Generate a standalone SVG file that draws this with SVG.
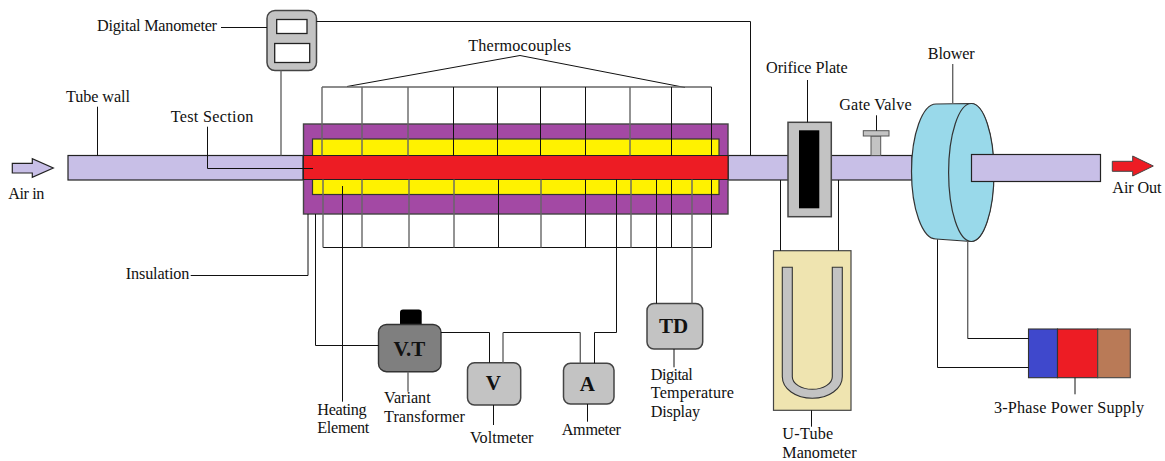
<svg xmlns="http://www.w3.org/2000/svg" width="1165" height="461" viewBox="0 0 1165 461">
<style>
text{font-family:"Liberation Serif","Times New Roman",serif;font-size:16.2px;fill:#111}
text.b{font-weight:bold;font-size:21px;text-anchor:middle}
.s{stroke:#222;stroke-width:1.2}
.tube{fill:#C8BFE7;stroke:#222;stroke-width:1.2}
.box{fill:#C3C3C3;stroke:#444;stroke-width:1.5}
.win{fill:#fff;stroke:#222;stroke-width:1.3}
#connectors path{fill:none;stroke:#111;stroke-width:1}
#connectors path.g{stroke:#666;stroke-width:1.4}
</style>
<rect width="1165" height="461" fill="#fff"/>
<g id="air-in"><polygon points="12.3,163.3 32.3,163.3 32.3,158.7 53.3,168 32.3,177.3 32.3,173 12.3,173" class="tube"/><text x="8.3" y="199.3" textLength="36">Air in</text></g>
<g id="tube-wall"><rect x="68" y="155.5" width="235" height="24.5" class="tube"/><rect x="728" y="155.5" width="184" height="24.5" class="tube"/><text x="66" y="102" textLength="64">Tube wall</text></g>
<g id="insulation"><rect x="303.5" y="124" width="424.5" height="90" fill="#A349A4" stroke="#444" stroke-width="1.4"/><text x="125.7" y="278.7" textLength="63.7">Insulation</text></g>
<g id="heating-element"><rect x="312.5" y="139" width="406.5" height="55.5" fill="#FFF200" stroke="#333" stroke-width="1.2"/><rect x="303.5" y="155.5" width="424.5" height="24" fill="#ED1C24" stroke="#222" stroke-width="1"/><text x="317.3" y="415.3" textLength="49.3">Heating</text><text x="317.3" y="433.3" textLength="52">Element</text></g>
<g id="test-section"><text x="170.7" y="121.7" textLength="82.7">Test Section</text></g>
<g id="thermocouples"><text x="468.3" y="50.7" textLength="102.7">Thermocouples</text></g>
<g id="digital-manometer"><rect x="267" y="10.5" width="49.5" height="60" rx="8" class="box"/><rect x="276.7" y="19.5" width="30.3" height="14" class="win"/><rect x="274.7" y="43.5" width="35" height="19" class="win"/><text x="97" y="30.7" textLength="120">Digital Manometer</text></g>
<g id="orifice-plate"><rect x="788" y="122.3" width="43.3" height="94.4" class="box"/><rect x="799" y="130.3" width="20.3" height="78" fill="#000"/><text x="766" y="73.3" textLength="81.7">Orifice Plate</text></g>
<g id="gate-valve"><rect x="871" y="136" width="9.7" height="19.5" fill="#C3C3C3" stroke="#555"/><rect x="863.3" y="130.7" width="25.7" height="5.3" fill="#C3C3C3" stroke="#555"/><text x="839.3" y="110.3" textLength="72.3">Gate Valve</text></g>
<g id="blower"><path d="M971,103.5 L936,104 A24.5,67.5 0 0 0 936,239 L971,241.5 A22.7,69 0 0 0 971,103.5 Z" fill="#99D9EA" stroke="#333" stroke-width="1.2"/><ellipse cx="971.3" cy="172.5" rx="22.7" ry="69" fill="#99D9EA" stroke="#333" stroke-width="1.2"/><rect x="971.5" y="154.5" width="129" height="27" class="tube"/><text x="927.7" y="59.3" textLength="47">Blower</text></g>
<g id="air-out"><polygon points="1112.3,161.3 1132.7,161.3 1132.7,156 1153.3,166 1132.7,176 1132.7,171.3 1112.3,171.3" fill="#ED1C24" stroke="#444"/><text x="1112.3" y="193.3" textLength="49.3">Air Out</text></g>
<g id="u-tube-manometer"><rect x="773.5" y="250.7" width="77.5" height="159.6" fill="#EFE4B0" stroke="#444" stroke-width="1.2"/><path d="M782.3,267.3 H792.3 V376.7 A20,12.6 0 0 0 832.3,376.7 V267.3 H842.3 V376.7 A30,21.6 0 0 1 782.3,376.7 Z" fill="#C3C3C3" stroke="#333" stroke-width="1.1"/><text x="782.3" y="439" textLength="51">U-Tube</text><text x="782.3" y="457.5" textLength="74.3">Manometer</text></g>
<g id="variant-transformer"><path d="M400,324.5 V312.5 Q400,309.5 403,309.5 H418.7 Q421.7,309.5 421.7,312.5 V324.5 Z" fill="#000"/><rect x="378.5" y="324.5" width="62.5" height="47.2" rx="8" fill="#7F7F7F" stroke="#333" stroke-width="1.4"/><text x="409.3" y="356" class="b">V.T</text><text x="384" y="403.3" textLength="46.7">Variant</text><text x="384" y="422" textLength="81">Transformer</text></g>
<g id="voltmeter"><rect x="467.5" y="362.7" width="53.2" height="42.3" rx="7" class="box"/><text x="493.3" y="390" class="b">V</text><text x="470" y="443.3" textLength="63.5">Voltmeter</text></g>
<g id="ammeter"><rect x="563.5" y="363.3" width="50.5" height="40.7" rx="7" class="box"/><text x="587.3" y="391" class="b">A</text><text x="561.7" y="435" textLength="59.3">Ammeter</text></g>
<g id="digital-temperature-display"><rect x="647" y="303.5" width="55.7" height="45.5" rx="7" class="box"/><text x="673.7" y="332.7" class="b">TD</text><text x="650.7" y="380" textLength="42">Digital</text><text x="650.7" y="398.3" textLength="83.3">Temperature</text><text x="650.7" y="416.7" textLength="49.3">Display</text></g>
<g id="power-supply"><rect x="1028.5" y="329" width="29" height="48.7" fill="#3F48CC" stroke="#333" stroke-width="1.1"/><rect x="1057.5" y="329" width="40.2" height="48.7" fill="#ED1C24" stroke="#333" stroke-width="1.1"/><rect x="1097.7" y="329" width="32.6" height="48.7" fill="#B97A57" stroke="#444" stroke-width="1.1"/><text x="994" y="413.3" textLength="150">3-Phase Power Supply</text></g>
<g id="connectors">
<path d="M221,27.5 H267"/>
<path d="M316.5,21.5 H750.5 V155.5"/>
<path class="g" d="M281,70.5 V155.5"/>
<path d="M97.5,106.7 V155.5"/>
<path d="M207.5,126.7 V168.5 H313"/>
<path d="M347,86.5 L520,55.5 L685,87.5"/>
<path class="g" d="M322,87 H711.5"/>
<path class="g" d="M322,87 V155.5 M362,87 V155.5 M408,87 V155.5 M630,87 V155.5"/>
<path d="M453.5,87 V155.5 M497.5,87 V155.5 M540.5,87 V155.5 M585.5,87 V155.5 M671.5,87 V155.5 M711.5,87 V155.5"/>
<path d="M323,247.5 H711.5"/>
<path class="g" d="M323,179.5 V247.5 M362,179.5 V247.5 M409,179.5 V247.5 M454,179.5 V247.5 M541,179.5 V247.5 M631,179.5 V247.5"/>
<path d="M498.5,179.5 V247.5 M585.5,179.5 V247.5 M671.5,179.5 V247.5 M711.5,179.5 V247.5"/>
<path d="M190.7,275.5 H308 V214"/>
<path d="M315.5,214 V345.5 H378.5"/>
<path d="M342.5,186 V401.7"/>
<path d="M441,332.5 H489.5 V362.7"/>
<path d="M503,332.5 H580.3"/>
<path class="g" d="M503,362.7 V332.5 M580.3,332.5 V363.3"/>
<path d="M594.5,363.3 V332.5 H616.5 V179.5"/>
<path d="M656.5,303.5 V179.5"/>
<path class="g" d="M692,303.5 V179.5"/>
<path class="g" d="M408,371.7 V391.7"/>
<path d="M493.5,405 V425"/>
<path d="M587.5,404 V421.7"/>
<path d="M674,349 V367.3"/>
<path d="M807.5,80 V122.3"/>
<path d="M876.5,115.3 V130.7"/>
<path class="g" d="M952.7,64 V104"/>
<path d="M780.5,180 V250.7"/>
<path d="M838.5,180 V250.7"/>
<path d="M811.5,410.3 V426.7"/>
<path d="M937.5,239.5 V367.5 H1028.5"/>
<path class="g" d="M967.7,241.5 V338.5"/>
<path d="M967.7,338.5 H1028.5"/>
<path d="M1075,377.7 V394.3"/>
</g>
</svg>
